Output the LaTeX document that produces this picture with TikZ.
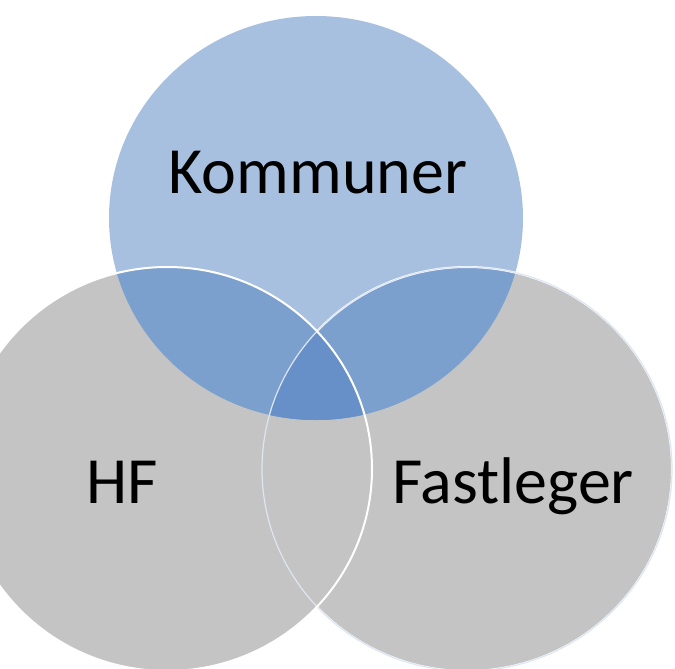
\documentclass[tikz,border=0pt]{standalone}
\usepackage{fontspec}
\setmainfont{Carlito}
\usetikzlibrary{positioning}

\definecolor{komblue}{HTML}{A8C0DF}
\definecolor{midblue}{HTML}{7CA0CE}
\definecolor{deepblue}{HTML}{6690C7}
\definecolor{setgray}{HTML}{C4C4C4}
\definecolor{rimblue}{HTML}{DDE6F2}

\tikzset{
	setname/.style={anchor=base, text=black, font=\fontsize{66}{70}\selectfont},
	rim/.style={draw=white, line width=2pt},
	thinrim/.style={draw=rimblue, line width=1.2pt}
}

\begin{document}
\begin{tikzpicture}[x=1pt, y=-1pt]
				\useasboundingbox (0, 0) rectangle (675, 669);
				\clip (0, 0) rectangle (675, 669);
				\def\setK{(316, 218) ellipse [x radius=207, y radius=202]}
				\def\setH{(167, 469) ellipse [x radius=205, y radius=202]}
				\def\setF{(467, 469) ellipse [x radius=205, y radius=202]}
				\fill[komblue] \setK;
				\fill[setgray] \setH;
				\fill[setgray] \setF;
				\begin{scope}
					\clip \setK;
					\fill[midblue] \setH;
					\fill[midblue] \setF;
				\end{scope}
				\begin{scope}
					\clip \setK;
					\clip \setH;
					\fill[deepblue] \setF;
				\end{scope}
				\begin{scope}[even odd rule]
					\clip (-10, -10) rectangle (685, 679) \setH;
					\draw[rim] \setF;
				\end{scope}
				\draw[thinrim] \setF;
				\draw[rim] \setH;
				\node[setname] (K) at (318, 193) {Kommuner};
				\node[setname] (HF) at (122, 503) {HF};
				\node[setname] (FL) at (513, 503) {Fastleger};
			\end{tikzpicture}
\end{document}
